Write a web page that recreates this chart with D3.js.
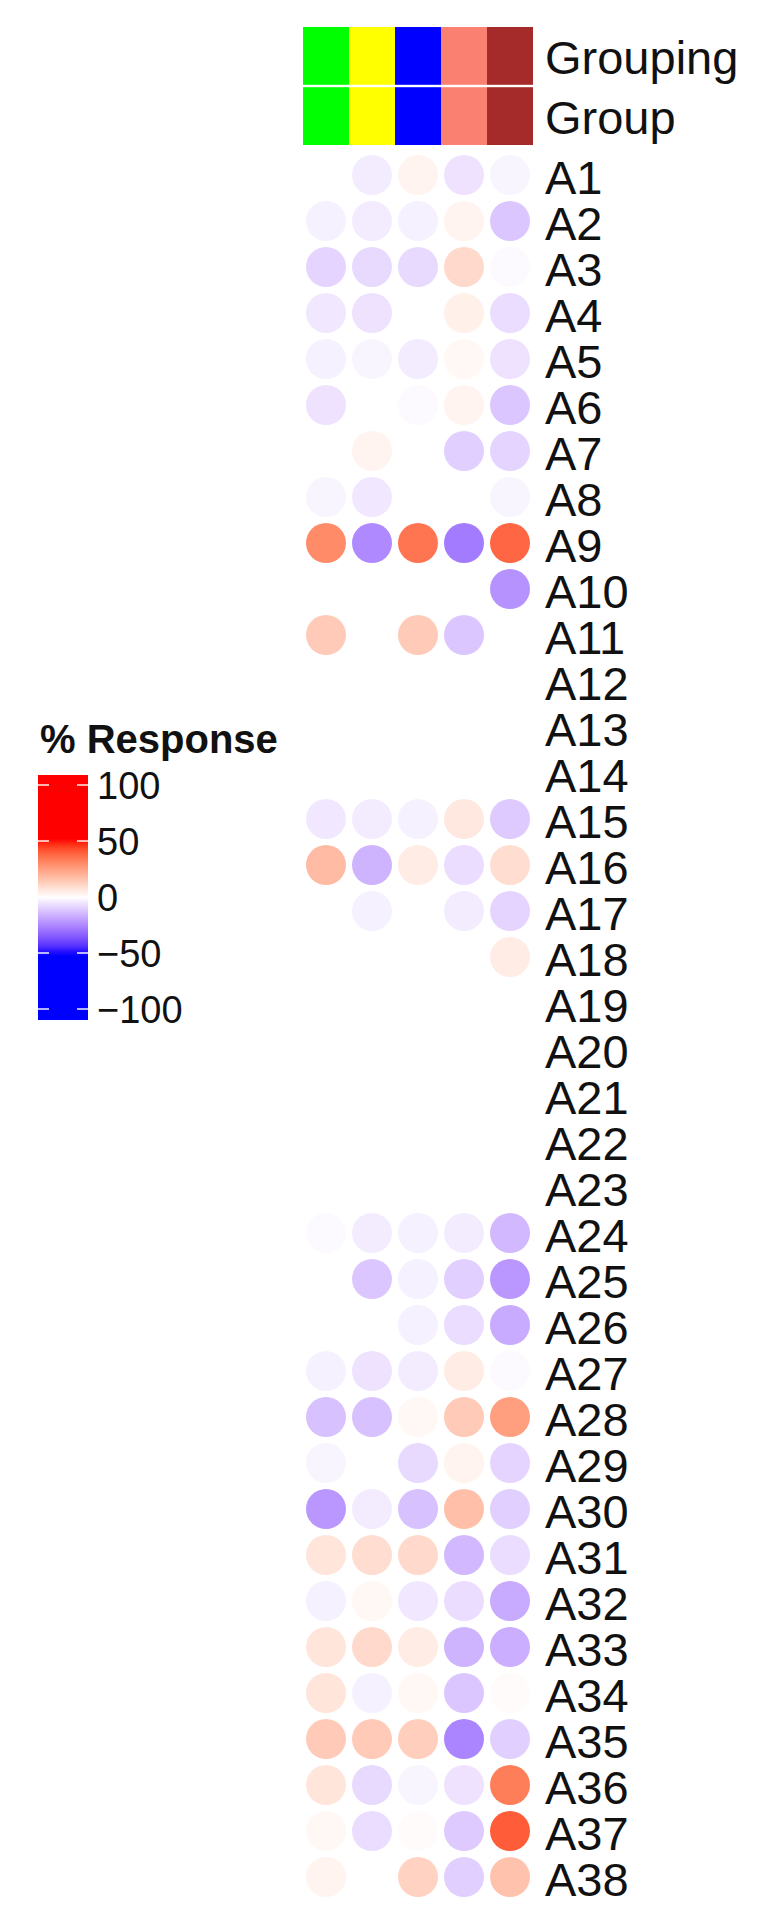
<!DOCTYPE html>
<html>
<head>
<meta charset="utf-8">
<script src="https://cdn.jsdelivr.net/npm/d3@7"></script>
<style>
  html, body { margin: 0; padding: 0; background: #ffffff; }
  svg { display: block; }
  text { font-family: "Liberation Sans", Arial, Helvetica, sans-serif; fill: #111; }
</style>
</head>
<body>
<svg id="chart" width="777" height="1928"></svg>
<script>
// ---- data ----
const rowLabels = ["A1","A2","A3","A4","A5","A6","A7","A8","A9","A10",
  "A11","A12","A13","A14","A15","A16","A17","A18","A19","A20",
  "A21","A22","A23","A24","A25","A26","A27","A28","A29","A30",
  "A31","A32","A33","A34","A35","A36","A37","A38"];
const columns = ["C1","C2","C3","C4","C5"];
const annotationNames = ["Grouping","Group"];
const groupColors = ["#00ff00","#ffff00","#0000ff","#fa8072","#a52a2a"];
// % response per row (A1..A38), one value per column
const responses = [
  [  0,  -4,   3,  -6,  -2],
  [ -3,  -4,  -3,   3, -12],
  [ -9,  -8,  -8,  10,  -1],
  [ -5,  -6,   0,   4,  -7],
  [ -3,  -2,  -4,   2,  -6],
  [ -6,   0,  -1,   3, -12],
  [  0,   3,   0, -10,  -9],
  [ -2,  -5,   0,   0,  -2],
  [ 30, -25,  35, -28,  38],
  [  0,   0,   0,   0, -23],
  [ 14,   0,  14, -12,   0],
  [  0,   0,   0,   0,   0],
  [  0,   0,   0,   0,   0],
  [  0,   0,   0,   0,   0],
  [ -5,  -4,  -3,   6, -11],
  [ 18, -16,   5,  -7,   9],
  [  0,  -3,   0,  -4,  -9],
  [  0,   0,   0,   0,   5],
  [  0,   0,   0,   0,   0],
  [  0,   0,   0,   0,   0],
  [  0,   0,   0,   0,   0],
  [  0,   0,   0,   0,   0],
  [  0,   0,   0,   0,   0],
  [ -1,  -4,  -3,  -4, -15],
  [  0, -12,  -3, -10, -22],
  [  0,   0,  -3,  -7, -18],
  [ -3,  -6,  -4,   5,  -1],
  [-13, -13,   2,  14,  25],
  [ -2,   0,  -8,   3,  -9],
  [-22,  -4, -13,  17, -10],
  [  7,   9,  10, -15,  -7],
  [ -3,   2,  -5,  -7, -18],
  [  7,  10,   5, -16, -17],
  [  7,  -3,   2, -12,   1],
  [ 14,  14,  13, -26, -10],
  [  7,  -8,  -2,  -6,  33],
  [  2,  -7,   1, -11,  40],
  [  3,   0,  12, -10,  16]
];
const legendTitle = "% Response";
const legendTicks = [100, 50, 0, -50, -100];

// ---- scales ----
const svg = d3.select("#chart");
svg.append("rect").attr("width", 777).attr("height", 1928).attr("fill", "#fff");

const color = d3.scaleLinear()
  .domain([-50, 0, 50])
  .range(["#0000ff", "#ffffff", "#ff0000"])
  .interpolate(d3.interpolateLab)
  .clamp(true);

const x = d3.scaleBand().domain(columns).range([303, 533]);
const y = d3.scaleBand().domain(rowLabels).range([152, 1900]);
const ya = d3.scaleBand().domain(annotationNames).range([27, 145]).paddingInner(0.04);

// ---- top annotation ----
const ann = svg.append("g");
annotationNames.forEach(name => {
  ann.selectAll(null)
    .data(columns)
    .join("rect")
    .attr("x", d => x(d))
    .attr("y", ya(name))
    .attr("width", x.bandwidth())
    .attr("height", ya.bandwidth())
    .attr("fill", (d, i) => groupColors[i]);
  ann.append("text")
    .attr("x", 545)
    .attr("y", ya(name) + ya.bandwidth() / 2 + 18)
    .attr("font-size", 47)
    .text(name);
});

// ---- dots ----
const cells = [];
responses.forEach((row, i) => row.forEach((v, j) => cells.push({ row: rowLabels[i], col: columns[j], v })));
svg.append("g").selectAll("circle")
  .data(cells)
  .join("circle")
  .attr("cx", d => x(d.col) + x.bandwidth() / 2)
  .attr("cy", d => y(d.row) + y.bandwidth() / 2)
  .attr("r", 20)
  .attr("fill", d => color(d.v));

// ---- row labels ----
svg.append("g").selectAll("text")
  .data(rowLabels)
  .join("text")
  .attr("x", 545)
  .attr("y", d => y(d) + y.bandwidth() / 2 + 19)
  .attr("font-size", 47)
  .text(d => d);

// ---- legend ----
const lg = svg.append("g");
lg.append("text")
  .attr("x", 40).attr("y", 753)
  .attr("font-size", 40).attr("font-weight", "bold")
  .text(legendTitle);

const ly = d3.scaleLinear().domain([100, -100]).range([785, 1009]);
const barTop = 775, barBottom = 1020, barX = 38, barW = 50;
const defs = svg.append("defs");
const grad = defs.append("linearGradient")
  .attr("id", "lg").attr("x1", 0).attr("y1", 0).attr("x2", 0).attr("y2", 1);
d3.range(0, 1.0001, 0.02).forEach(t => {
  const yy = barTop + t * (barBottom - barTop);
  grad.append("stop").attr("offset", t).attr("stop-color", color(ly.invert(yy)));
});
lg.append("rect")
  .attr("x", barX).attr("y", barTop)
  .attr("width", barW).attr("height", barBottom - barTop)
  .attr("fill", "url(#lg)");
lg.selectAll("line.tl")
  .data(legendTicks)
  .join("line")
  .attr("x1", barX).attr("x2", barX + 11)
  .attr("y1", d => ly(d)).attr("y2", d => ly(d))
  .attr("stroke", "#fff").attr("stroke-width", 2).attr("opacity", 0.7);
lg.selectAll("line.tr")
  .data(legendTicks)
  .join("line")
  .attr("x1", barX + barW - 11).attr("x2", barX + barW)
  .attr("y1", d => ly(d)).attr("y2", d => ly(d))
  .attr("stroke", "#fff").attr("stroke-width", 2).attr("opacity", 0.7);
lg.selectAll("text.tick")
  .data(legendTicks)
  .join("text")
  .attr("class", "tick")
  .attr("x", 97)
  .attr("y", d => ly(d) + 14)
  .attr("font-size", 38)
  .text(d => d < 0 ? "\u2212" + Math.abs(d) : String(d));
</script>
</body>
</html>
